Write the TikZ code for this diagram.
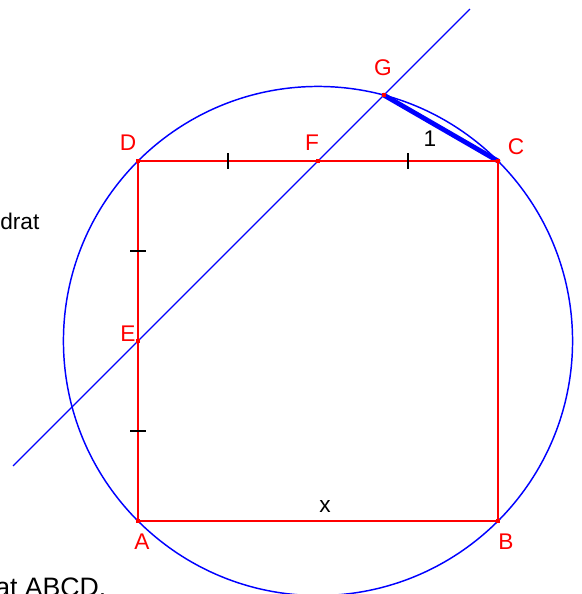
\documentclass[tikz,border=0pt]{standalone}
\usepackage{fontspec}
\setmainfont{Liberation Sans}
\usetikzlibrary{calc}
\definecolor{pred}{RGB}{255,0,0}
\definecolor{pblue}{RGB}{0,0,255}
\tikzset{
  side/.style={pred,line width=1.5pt},
  circ/.style={pblue,line width=1.1pt},
  bisect/.style={pblue,line width=1pt},
  chord/.style={pblue,line width=3.6pt,line cap=round},
  tickmark/.style={black,line width=1.1pt},
  vtx/.style={rectangle,fill=pred,inner sep=0pt,minimum size=3.5pt},
  ptlabel/.style={text=pred,font=\fontsize{17}{20}\selectfont,inner sep=0pt},
  txt/.style={text=black,font=\fontsize{17}{20}\selectfont,inner sep=0pt}
}
\begin{document}
\begin{tikzpicture}[x=0.75pt,y=-0.75pt]
  \useasboundingbox (0,0) rectangle (582,594);
  % square and its centre
  \coordinate (A) at (138,521);
  \coordinate (B) at (498,521);
  \coordinate (C) at (498,161);
  \coordinate (D) at (138,161);
  \coordinate (O) at ($(A)!0.5!(C)$);
  \coordinate (E) at ($(A)!0.5!(D)$);
  \coordinate (F) at ($(D)!0.5!(C)$);
  \coordinate (G) at ($(E)!1.366!(F)$);
  \coordinate (l0) at ($(E)!-0.694!(F)$);
  \coordinate (l1) at ($(E)!1.844!(F)$);
  % circumcircle
  \draw[circ] let \p1=($(A)-(O)$) in (O) circle ({veclen(\x1,\y1)});
  \draw[bisect] (l0) -- (l1);
  \draw[chord] (G) -- (C);
  \draw[side] (A) -- (B) -- (C) -- (D) -- cycle;
  % equal parts
  \foreach \t in {0.25,0.75}
    {\draw[tickmark] ($(D)!\t!(C)$) ++(0,-8) -- ++(0,16);
     \draw[tickmark] ($(D)!\t!(A)$) ++(-8,0) -- ++(16,0);}
  \foreach \p in {A,B,C,D,E,F,G}
    \node[vtx] (v\p) at (\p) {};
  \node[ptlabel] (labA) at (142,542) {A};
  \node[ptlabel] (labB) at (506,542) {B};
  \node[ptlabel] (labC) at (516,147) {C};
  \node[ptlabel] (labD) at (128,143) {D};
  \node[ptlabel] (labE) at (128,334) {E};
  \node[ptlabel] (labF) at (312,143) {F};
  \node[ptlabel] (labG) at (383,68) {G};
  \node[txt] (one) at (430,139) {1};
  \node[txt] (side) at (325,507) {x};
  \node[txt,anchor=base west] (t1) at (0,229) {drat};
  \node[txt,font=\fontsize{20}{24}\selectfont,anchor=base west] (t2) at (-5,596) {at ABCD.};
\end{tikzpicture}
\end{document}
